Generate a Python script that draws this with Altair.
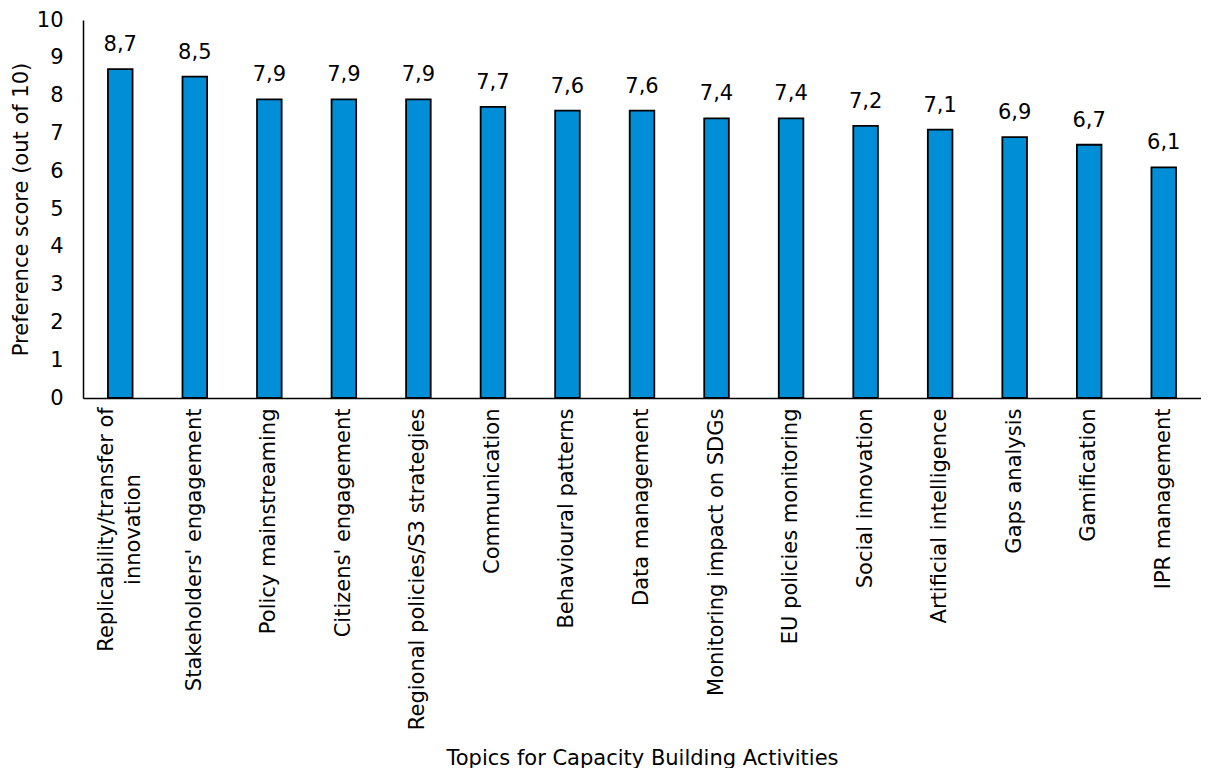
import altair as alt
import pandas as pd

topics = [
    "Replicability/transfer of innovation",
    "Stakeholders' engagement",
    "Policy mainstreaming",
    "Citizens' engagement",
    "Regional policies/S3 strategies",
    "Communication",
    "Behavioural patterns",
    "Data management",
    "Monitoring impact on SDGs",
    "EU policies monitoring",
    "Social innovation",
    "Artificial intelligence",
    "Gaps analysis",
    "Gamification",
    "IPR management",
]
scores = [8.7, 8.5, 7.9, 7.9, 7.9, 7.7, 7.6, 7.6, 7.4, 7.4, 7.2, 7.1, 6.9, 6.7, 6.1]

df = pd.DataFrame({"topic": topics, "score": scores})

FONT = "DejaVu Sans"
FS = 21
BLUE = "#008FD6"
FIRST = topics[0]
IS_FIRST = f"datum.value == '{FIRST}'"

base = alt.Chart(df).transform_calculate(
    lbl="replace(format(datum.score, '.1f'), '.', ',')"
).encode(
    x=alt.X(
        "topic:N",
        sort=topics,
        title="Topics for Capacity Building Activities",
        scale=alt.Scale(paddingInner=0.67, paddingOuter=0.335),
        axis=alt.Axis(
            labelAngle=-90,
            labelPadding=alt.condition(IS_FIRST, alt.value(131), alt.value(10)),
            labelAlign=alt.condition(IS_FIRST, alt.value("center"), alt.value("right")),
            labelLineHeight=27,
            labelLimit=400,
            labelOffset=alt.condition(IS_FIRST, alt.value(-13), alt.value(0)),
            labelExpr=f"{IS_FIRST} ? ['Replicability/transfer of', 'innovation'] : datum.value",
            ticks=False,
            titleY=349,
            titleBaseline="top",
        ),
    ),
    y=alt.Y(
        "score:Q",
        title="Preference score (out of 10)",
        scale=alt.Scale(domain=[0, 10], nice=False),
        axis=alt.Axis(values=list(range(0, 11)), labelOverlap=False, ticks=False,
                      grid=False, labelPadding=20, titlePadding=5),
    ),
)

bars = base.mark_bar(fill=BLUE, stroke="black", strokeWidth=1.8)

labels = base.mark_text(baseline="bottom", dy=-14, fontSize=FS, font=FONT, color="black").encode(
    text="lbl:N",
)

chart = (
    alt.layer(bars, labels)
    .properties(
        width=1118,
        height=378,
        autosize=alt.AutoSizeParams(type="none"),
        padding={"left": 75, "top": 12, "right": 0, "bottom": 370},
    )
    .configure_view(stroke=None)
    .configure_axis(
        labelFont=FONT,
        titleFont=FONT,
        labelFontSize=FS,
        titleFontSize=FS,
        labelColor="black",
        titleColor="black",
        titleFontWeight="normal",
        domainColor="black",
        domainWidth=1.5,
        grid=False,
    )
)

chart.save("out.html", embed_options={"renderer": "svg", "actions": False})
